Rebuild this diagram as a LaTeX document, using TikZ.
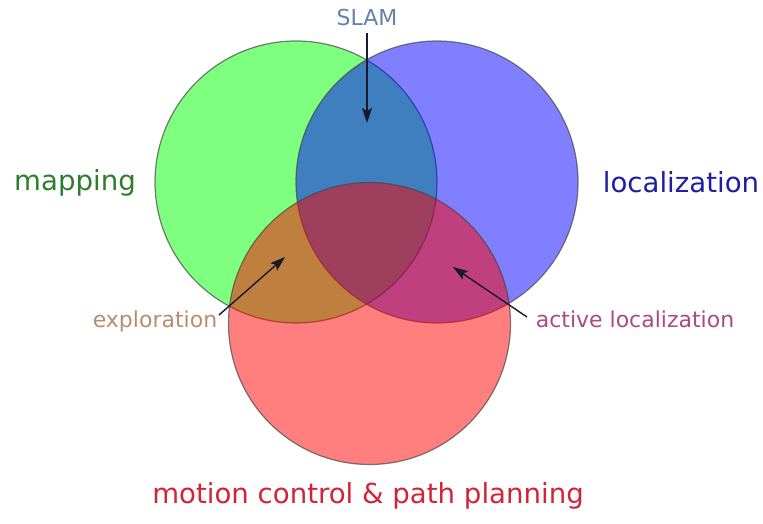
\documentclass[tikz,border=0pt]{standalone}
\usepackage{fontspec}
\setmainfont{DejaVu Sans}
\usetikzlibrary{arrows.meta}
\definecolor{setgreen}{RGB}{0,255,0}
\definecolor{setblue}{RGB}{0,0,255}
\definecolor{setred}{RGB}{255,0,0}
\definecolor{rimgray}{RGB}{70,70,70}
\definecolor{txtmap}{RGB}{45,125,45}
\definecolor{txtloc}{RGB}{30,30,165}
\definecolor{txtslam}{RGB}{100,130,170}
\definecolor{txtexpl}{RGB}{185,140,110}
\definecolor{txtactive}{RGB}{170,75,130}
\definecolor{txtmotion}{RGB}{210,35,55}
\definecolor{pointer}{RGB}{25,25,45}
\tikzset{
  setdisc/.style={circle, minimum size=282pt, inner sep=0pt, draw=rimgray,
    draw opacity=0.7, line width=1.2pt, fill opacity=0.5},
  biglabel/.style={anchor=base, inner sep=0pt, font=\fontsize{27.6}{30}\selectfont},
  smalllabel/.style={anchor=base, inner sep=0pt, font=\fontsize{22}{25}\selectfont},
  pointerarrow/.style={draw=pointer, line width=1.4pt,
    -{Stealth[length=15pt, width=10pt, inset=3pt]}}
}
\begin{document}
\begin{tikzpicture}[x=1pt, y=-1pt]
  \useasboundingbox (0,0) rectangle (763,524);
  % the three overlapping sets
  \node[setdisc, fill=setgreen] (mapset) at (296,182) {};
  \node[setdisc, fill=setblue]  (locset) at (437,182) {};
  \node[setdisc, fill=setred]   (motset) at (369.5,323.5) {};
  % set labels
  \node[biglabel, text=txtmap] (maplbl) at (75,190) {mapping};
  \node[biglabel, text=txtloc] (loclbl) at (681,192) {localization};
  \node[biglabel, text=txtmotion] (motlbl) at (368,503) {motion control \& path planning};
  % intersection labels
  \node[smalllabel, text=txtslam] (slamlbl) at (367,26) {SLAM};
  \node[smalllabel, text=txtexpl] (expllbl) at (155,327) {exploration};
  \node[smalllabel, text=txtactive] (actlbl) at (635,327) {active localization};
  % pointer ends
  \coordinate (slamfrom) at (367,33);
  \coordinate (slamto) at (367,123);
  \coordinate (explfrom) at (219,315);
  \coordinate (explto) at (285,257);
  \coordinate (actfrom) at (527,317);
  \coordinate (actto) at (453,267);
  \draw[pointerarrow] (slamfrom) -- (slamto);
  \draw[pointerarrow] (explfrom) -- (explto);
  \draw[pointerarrow] (actfrom) -- (actto);
\end{tikzpicture}
\end{document}
